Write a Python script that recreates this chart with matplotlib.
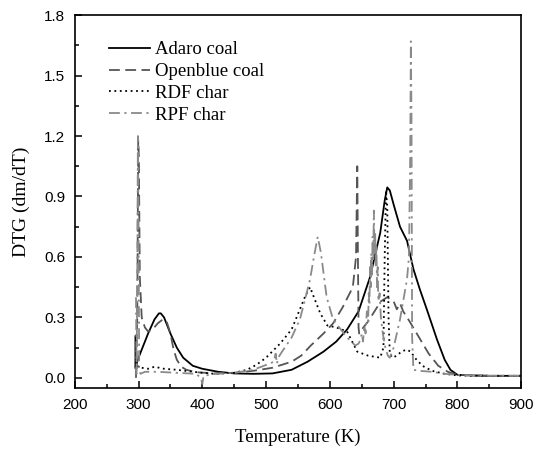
import matplotlib
matplotlib.use("Agg")
import matplotlib.pyplot as plt
from matplotlib.ticker import MultipleLocator

# Adaro coal
adaro_t = [295, 295.5, 296, 298, 300, 305, 315, 325, 332, 335, 340, 350, 360, 370, 385,
           400, 425, 450, 480, 510, 540, 565, 590, 610, 627, 645, 663, 679, 686, 690,
           694, 700, 710, 721, 731, 741, 752, 768, 780, 789, 800, 820, 850, 880, 900]
adaro_y = [0.05, 0.21, 0.06, 0.08, 0.10, 0.14, 0.22, 0.29, 0.32, 0.32, 0.30, 0.22, 0.15, 0.10, 0.06,
           0.045, 0.03, 0.022, 0.02, 0.022, 0.04, 0.08, 0.13, 0.18, 0.24, 0.33, 0.50, 0.72, 0.88, 0.945,
           0.93, 0.86, 0.75, 0.68, 0.54, 0.44, 0.34, 0.19, 0.09, 0.04, 0.015, 0.012, 0.01, 0.01, 0.01]

# Openblue coal
openblue_t = [296, 298, 299.5, 300.5, 302, 305, 310, 315, 322, 330, 338, 344, 350, 355, 360,
              367, 375, 390, 420, 450, 480, 510, 540, 555, 570, 590, 605, 620, 636, 641,
              643, 644, 645, 646, 650, 660, 670, 680, 690, 700, 705, 710, 715, 725, 740,
              755, 770, 785, 800, 850, 900]
openblue_y = [0.0, 0.3, 1.18, 1.1, 0.5, 0.3, 0.25, 0.23, 0.24, 0.27, 0.29, 0.28, 0.22, 0.14, 0.09,
              0.055, 0.04, 0.028, 0.022, 0.025, 0.035, 0.05, 0.08, 0.11, 0.16, 0.22, 0.27, 0.35, 0.45, 0.6,
              1.05, 0.6, 0.25, 0.22, 0.24, 0.28, 0.33, 0.38, 0.40, 0.38, 0.34, 0.37, 0.33, 0.28, 0.20,
              0.12, 0.06, 0.03, 0.015, 0.01, 0.01]

# RDF char
rdf_t = [296, 297, 298, 300, 305, 315, 325, 340, 360, 380, 400, 420, 450, 470, 485,
         500, 522, 540, 553, 562, 569, 575, 585, 596, 610, 627, 635, 643, 660, 679,
         684, 686, 688, 690, 692, 694, 698, 705, 712, 720, 727, 733, 745, 760, 780,
         800, 850, 900]
rdf_y = [0.10, 0.05, 0.07, 0.05, 0.05, 0.045, 0.055, 0.045, 0.04, 0.032, 0.025, 0.02, 0.025, 0.04, 0.065,
         0.10, 0.17, 0.24, 0.34, 0.41, 0.45, 0.40, 0.32, 0.26, 0.25, 0.23, 0.18, 0.13, 0.11, 0.10,
         0.15, 0.6, 0.93, 0.85, 0.3, 0.12, 0.10, 0.11, 0.13, 0.14, 0.13, 0.10, 0.06, 0.035, 0.02,
         0.012, 0.01, 0.01]

# RPF char
rpf_t = [296, 297, 298, 299, 300, 301, 303, 310, 330, 360, 390, 398, 400, 402, 420,
         450, 480, 505, 512, 515, 517, 519, 525, 540, 553, 562, 569, 575, 581, 586,
         595, 605, 627, 640, 645, 648, 650, 652, 654, 656, 658, 660, 661, 662, 663,
         664, 665, 666, 667, 668, 669, 670, 671, 672, 673, 674, 675, 676, 678, 680,
         683, 687, 691, 694, 700, 710, 721, 724, 726, 727, 728, 729, 731, 740, 760,
         780, 800, 850, 900]
rpf_y = [0.4, 0.02, 0.5, 1.2, 0.8, 0.05, 0.02, 0.03, 0.03, 0.025, 0.02, 0.0, -0.03, 0.01, 0.02,
         0.025, 0.04, 0.07, 0.08, 0.12, 0.07, 0.10, 0.13, 0.20, 0.29, 0.40, 0.49, 0.60, 0.70, 0.62,
         0.40, 0.29, 0.20, 0.16, 0.17, 0.19, 0.22, 0.18, 0.26, 0.22, 0.33, 0.28, 0.42, 0.36, 0.55,
         0.45, 0.62, 0.50, 0.70, 0.58, 0.83, 0.62, 0.72, 0.55, 0.66, 0.45, 0.55, 0.38, 0.42, 0.30,
         0.22, 0.15, 0.11, 0.10, 0.15, 0.29, 0.49, 0.60, 1.1, 1.67, 1.3, 0.2, 0.04, 0.035, 0.03,
         0.02, 0.015, 0.01, 0.01]

plt.rcParams['font.family'] = ['Liberation Sans', 'DejaVu Sans']

fig = plt.figure(figsize=(5.34, 4.58), dpi=100)
ax = fig.add_axes([0.140, 0.153, 0.836, 0.814])

lw = 1.3
ax.plot(adaro_t, adaro_y, color='black', lw=lw, ls='-', label='Adaro coal')
ax.plot(openblue_t, openblue_y, color='#555555', lw=lw, ls=(0, (6, 3)), label='Openblue coal')
ax.plot(rdf_t, rdf_y, color='black', lw=lw, ls=(0, (1, 2)), label='RDF char')
ax.plot(rpf_t, rpf_y, color='#8a8a8a', lw=lw, ls=(0, (6, 2.5, 1.2, 2.5)), label='RPF char')

ax.set_xlim(200, 900)
ax.set_ylim(-0.05, 1.8)
ax.xaxis.set_major_locator(MultipleLocator(100))
ax.xaxis.set_minor_locator(MultipleLocator(50))
ax.yaxis.set_major_locator(MultipleLocator(0.3))
ax.yaxis.set_minor_locator(MultipleLocator(0.15))
ax.yaxis.set_major_formatter(matplotlib.ticker.FormatStrFormatter('%.1f'))
ax.tick_params(which='both', direction='in', top=False, right=False, labelsize=11, width=1.1)
ax.tick_params(which='major', length=5, pad=7)
ax.tick_params(which='minor', length=3)
for s in ax.spines.values():
    s.set_linewidth(1.2)

ax.set_xlabel('Temperature (K)', family='Liberation Serif', fontsize=13.5, labelpad=12)
ax.set_ylabel('DTG (dm/dT)', family='Liberation Serif', fontsize=14, labelpad=10)

ax.legend(loc='upper left', bbox_to_anchor=(0.038, 0.975), frameon=False,
          prop={'family': 'Liberation Serif', 'size': 13.5}, handlelength=2.2,
          handletextpad=0.25, labelspacing=0.25)

fig.savefig('out.png', dpi=100)
